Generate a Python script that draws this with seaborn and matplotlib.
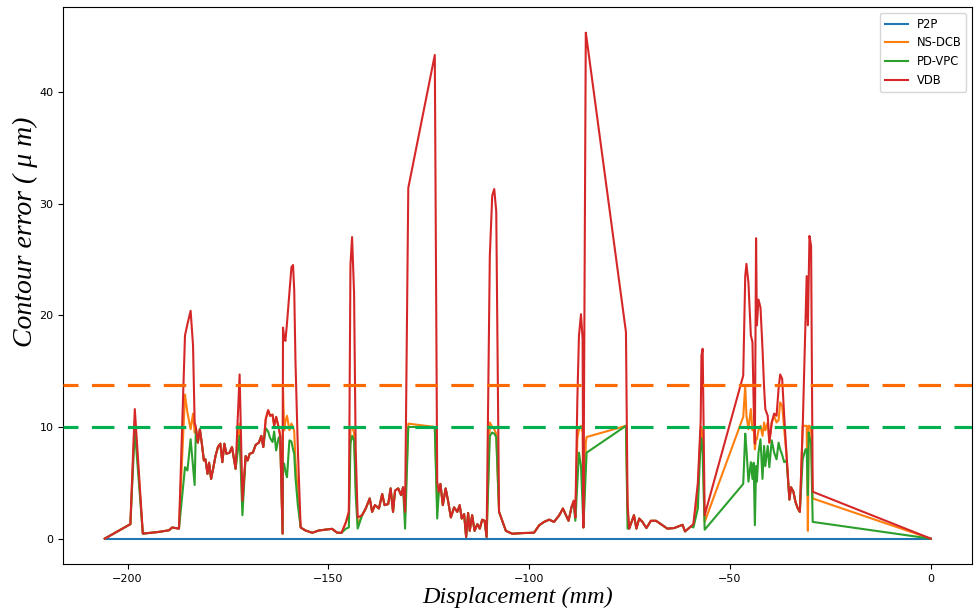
import matplotlib
matplotlib.use("Agg")
import matplotlib.pyplot as plt
import numpy as np
import pandas as pd
import seaborn as sns

# Displacement along the path (mm) and contour error of each method (um)
displacement = [
    -205.7, -199.3, -198.2, -196.2, -192.3, -189.7, -188.9, -187.2,
    -185.7, -185.1, -184.3, -183.7, -183.3, -183.0, -182.5, -182.0,
    -181.5, -181.0, -180.6, -180.1, -179.7, -179.2, -178.7, -178.1,
    -177.5, -176.9, -176.4, -175.9, -175.4, -174.6, -174.0, -173.1,
    -172.1, -171.4, -170.6, -170.1, -169.6, -168.8, -168.1, -167.3,
    -166.7, -166.2, -165.6, -165.0, -164.5, -163.9, -163.5, -163.0,
    -162.4, -162.0, -161.4, -161.3, -161.0, -160.7, -160.3, -159.7,
    -159.2, -158.8, -158.5, -158.2, -157.6, -156.9, -155.7, -154.0,
    -152.4, -149.1, -147.8, -146.7, -145.6, -144.9, -144.5, -144.1,
    -143.6, -143.2, -142.7, -141.6, -140.7, -139.7, -139.1, -138.4,
    -137.4, -136.6, -136.0, -135.1, -134.5, -133.9, -133.4, -132.6,
    -131.9, -131.4, -130.9, -130.1, -123.5, -122.9, -122.5, -122.1,
    -121.5, -120.8, -120.2, -119.5, -118.7, -117.9, -117.3, -116.8,
    -116.2, -115.7, -115.2, -114.8, -114.2, -113.6, -112.9, -112.3,
    -111.7, -111.1, -110.6, -109.8, -109.2, -108.7, -108.2, -107.5,
    -105.8, -104.2, -101.7, -98.8, -97.5, -96.3, -95.0, -93.8,
    -92.5, -91.6, -90.2, -89.4, -88.9, -88.5, -88.0, -87.6,
    -87.1, -86.7, -86.5, -85.9, -85.7, -75.9, -75.5, -75.1,
    -73.9, -73.3, -72.6, -71.8, -70.8, -69.7, -68.4, -66.8,
    -65.6, -63.9, -61.8, -61.2, -59.7, -59.1, -58.0, -57.3,
    -57.1, -56.8, -56.3, -46.7, -46.2, -45.9, -45.4, -44.8,
    -44.4, -44.1, -43.8, -43.5, -43.3, -42.9, -42.4, -41.9,
    -41.5, -41.2, -40.6, -40.2, -39.6, -39.0, -38.4, -37.9,
    -37.5, -37.0, -36.5, -35.9, -35.2, -34.8, -34.2, -33.7,
    -33.1, -32.6, -31.9, -31.2, -30.9, -30.6, -30.4, -30.2,
    -29.8, -29.4, 0.0,
]

vdb = [
    0.0, 1.3, 11.6, 0.45, 0.6, 0.75, 1.0, 0.9,
    18.2, 19.2, 20.4, 17.3, 10.4, 10.0, 8.6, 9.8,
    8.5, 7.0, 7.1, 5.8, 6.8, 5.35, 6.25, 7.4,
    8.2, 8.5, 6.85, 8.5, 7.6, 7.7, 8.2, 6.25,
    14.7, 3.4, 7.4, 7.0, 7.6, 7.7, 8.4, 8.6,
    9.2, 8.2, 10.7, 11.5, 11.0, 11.1, 10.1, 10.9,
    10.0, 9.2, 0.45, 18.9, 18.0, 17.7, 19.3, 22.0,
    24.3, 24.5, 22.2, 16.0, 8.0, 1.0, 0.73, 0.53,
    0.73, 0.88, 0.53, 0.53, 1.5, 2.4, 24.5, 27.0,
    22.0, 8.0, 1.9, 2.1, 2.7, 3.6, 2.4, 3.0,
    2.7, 4.0, 3.0, 3.1, 4.5, 2.4, 4.3, 4.5,
    3.9, 4.6, 2.4, 31.4, 43.3, 5.1, 4.2, 4.9,
    3.0, 4.5, 3.4, 1.9, 2.8, 2.4, 3.0, 1.8,
    2.2, 0.15, 2.3, 0.7, 2.1, 0.7, 1.3, 0.9,
    1.7, 1.6, 0.15, 25.3, 30.7, 31.3, 29.3, 2.4,
    0.7, 0.44, 0.5, 0.53, 1.2, 1.5, 1.7, 1.5,
    2.1, 2.7, 1.6, 2.9, 3.4, 1.9, 12.5, 18.2,
    20.1, 17.9, 1.0, 45.3, 44.8, 18.5, 3.1, 0.9,
    2.1, 0.9, 1.8, 1.5, 0.95, 1.6, 1.6, 1.2,
    0.9, 0.95, 1.24, 0.65, 1.1, 1.33, 5.0, 10.5,
    16.4, 17.0, 2.1, 14.6, 23.5, 24.6, 22.9, 18.2,
    17.6, 12.0, 8.5, 26.9, 19.1, 21.4, 20.7, 17.0,
    13.5, 11.6, 11.0, 8.6, 10.4, 11.2, 11.0, 13.4,
    14.7, 14.3, 11.0, 7.4, 3.5, 4.6, 4.2, 3.3,
    2.7, 2.4, 9.8, 19.2, 23.5, 19.1, 23.0, 27.1,
    26.2, 4.2, 0.0,
]

ns_dcb = [
    0.0, 1.3, 10.6, 0.45, 0.6, 0.75, 1.0, 0.9,
    12.9, 11.3, 9.8, 11.2, 9.5, 9.9, 8.6, 9.8,
    8.5, 7.0, 7.1, 5.8, 6.8, 5.35, 6.25, 7.4,
    8.2, 8.5, 6.85, 8.5, 7.6, 7.7, 8.2, 6.25,
    10.3, 3.0, 7.4, 7.0, 7.6, 7.7, 8.4, 8.6,
    9.2, 8.2, 10.7, 11.5, 11.0, 11.1, 10.1, 10.9,
    10.0, 9.2, 0.45, 13.5, 9.7, 10.5, 11.0, 9.7,
    10.3, 10.0, 9.6, 7.0, 4.0, 1.0, 0.73, 0.53,
    0.73, 0.88, 0.53, 0.53, 1.5, 2.4, 9.8, 10.0,
    9.5, 5.0, 1.2, 2.1, 2.7, 3.6, 2.4, 3.0,
    2.7, 4.0, 3.0, 3.1, 4.5, 2.4, 4.3, 4.5,
    3.9, 4.6, 2.4, 10.3, 10.0, 3.0, 4.2, 4.9,
    3.0, 4.5, 3.4, 1.9, 2.8, 2.4, 3.0, 1.8,
    2.2, 0.15, 2.3, 0.7, 2.1, 0.7, 1.3, 0.9,
    1.7, 1.6, 0.15, 10.4, 10.0, 9.8, 9.4, 2.4,
    0.7, 0.44, 0.5, 0.53, 1.2, 1.5, 1.7, 1.5,
    2.1, 2.7, 1.6, 2.9, 3.4, 1.9, 9.0, 9.8,
    10.1, 9.5, 1.0, 8.6, 9.1, 10.1, 2.5, 0.9,
    2.1, 0.9, 1.8, 1.5, 0.95, 1.6, 1.6, 1.2,
    0.9, 0.95, 1.24, 0.65, 1.1, 1.2, 4.0, 9.8,
    10.0, 9.0, 1.5, 10.9, 13.7, 11.0, 9.8, 11.6,
    9.7, 10.0, 8.0, 9.0, 8.9, 9.7, 10.1, 9.2,
    10.4, 9.7, 10.4, 8.6, 10.4, 11.0, 10.4, 10.6,
    12.2, 11.9, 9.8, 7.4, 3.5, 4.6, 4.2, 3.3,
    2.7, 2.4, 10.1, 10.1, 10.1, 0.7, 10.1, 10.1,
    9.8, 3.6, 0.0,
]

pd_vpc = [
    0.0, 1.3, 9.8, 0.45, 0.6, 0.75, 1.0, 0.9,
    6.4, 6.1, 8.9, 6.5, 4.8, 9.7, 8.6, 9.8,
    8.5, 7.0, 7.1, 5.8, 6.8, 5.35, 6.25, 7.4,
    8.2, 8.5, 6.85, 8.5, 7.6, 7.7, 8.2, 6.25,
    9.2, 2.1, 7.4, 7.0, 7.6, 7.7, 8.4, 8.6,
    9.2, 8.2, 9.9, 9.6, 9.0, 8.65, 9.6, 7.9,
    9.0, 9.2, 0.45, 6.8, 6.7, 6.0, 5.5, 8.8,
    8.7, 8.0, 7.6, 5.5, 3.0, 1.0, 0.73, 0.53,
    0.73, 0.88, 0.53, 0.53, 0.9, 1.0, 8.5, 9.2,
    8.8, 4.0, 0.9, 2.1, 2.7, 3.6, 2.4, 3.0,
    2.7, 4.0, 3.0, 3.1, 4.5, 2.4, 4.3, 4.5,
    3.9, 4.6, 0.9, 10.0, 10.0, 1.8, 4.2, 4.9,
    3.0, 4.5, 3.4, 1.9, 2.8, 2.4, 3.0, 1.8,
    2.2, 0.15, 2.3, 0.7, 2.1, 0.7, 1.3, 0.9,
    1.7, 1.6, 0.15, 9.2, 9.5, 9.4, 9.1, 2.4,
    0.7, 0.44, 0.5, 0.53, 1.2, 1.5, 1.7, 1.5,
    2.1, 2.7, 1.6, 2.9, 3.0, 1.6, 5.0, 7.7,
    6.5, 3.0, 1.0, 5.95, 7.7, 10.1, 0.9, 0.9,
    2.1, 0.9, 1.8, 1.5, 0.95, 1.6, 1.6, 1.2,
    0.9, 0.95, 1.24, 0.65, 1.1, 1.0, 2.7, 8.9,
    9.0, 7.5, 0.8, 4.9, 9.4, 8.0, 5.1, 6.85,
    5.35, 6.8, 1.2, 6.5, 5.1, 7.7, 8.9, 5.35,
    8.3, 6.5, 8.3, 6.4, 8.8, 7.7, 7.1, 8.6,
    8.0, 7.5, 6.85, 7.0, 3.5, 4.6, 4.2, 3.3,
    2.7, 2.4, 7.1, 8.0, 8.0, 3.9, 9.5, 9.1,
    8.5, 1.5, 0.0,
]

# P2P stays on zero over the whole stroke
p2p_displacement = [-205.7, 0.0]
p2p = [0.0, 0.0]

# Reference limits drawn as dashed horizontal lines
limit_ns_dcb = 13.77
limit_pd_vpc = 10.0

methods = ["P2P", "NS-DCB", "PD-VPC", "VDB"]
palette = {"P2P": "#1f77b4", "NS-DCB": "#ff7f0e", "PD-VPC": "#2ca02c", "VDB": "#d62728"}

assert len(displacement) == len(vdb) == len(ns_dcb) == len(pd_vpc)

frames = [pd.DataFrame({"Displacement": p2p_displacement, "Error": p2p, "Method": "P2P"})]
for name, values in (("NS-DCB", ns_dcb), ("PD-VPC", pd_vpc), ("VDB", vdb)):
    frames.append(pd.DataFrame({"Displacement": displacement, "Error": values, "Method": name}))
df = pd.concat(frames, ignore_index=True)

fig = plt.figure(figsize=(9.75, 6.13), dpi=100)
ax = fig.add_axes([0.065, 0.080, 0.932, 0.908])

sns.lineplot(data=df, x="Displacement", y="Error", hue="Method", hue_order=methods,
             palette=palette, sort=False, estimator=None, linewidth=1.5, ax=ax)

dash = (2.4, (7.2, 4.3))
ax.axhline(limit_ns_dcb, color="#ff6a00", linewidth=2.25, linestyle=dash, zorder=3)
ax.axhline(limit_pd_vpc, color="#00b050", linewidth=2.25, linestyle=dash, zorder=3)

ax.set_xticks([-200, -150, -100, -50, 0])
ax.set_yticks([0, 10, 20, 30, 40])
ax.tick_params(labelsize=8)

ax.set_xlabel("Displacement (mm)", family="Liberation Serif", style="italic", size=17.5)
ax.set_ylabel("Contour error ( μ m)", family="Liberation Serif", style="italic", size=20)
ax.xaxis.set_label_coords(0.5, -0.041)
ax.yaxis.set_label_coords(-0.028, 0.596)

handles, labels = ax.get_legend_handles_labels()
ax.legend(handles, labels, loc="upper right", fontsize=8.3)

fig.savefig("out.png", dpi=100)
